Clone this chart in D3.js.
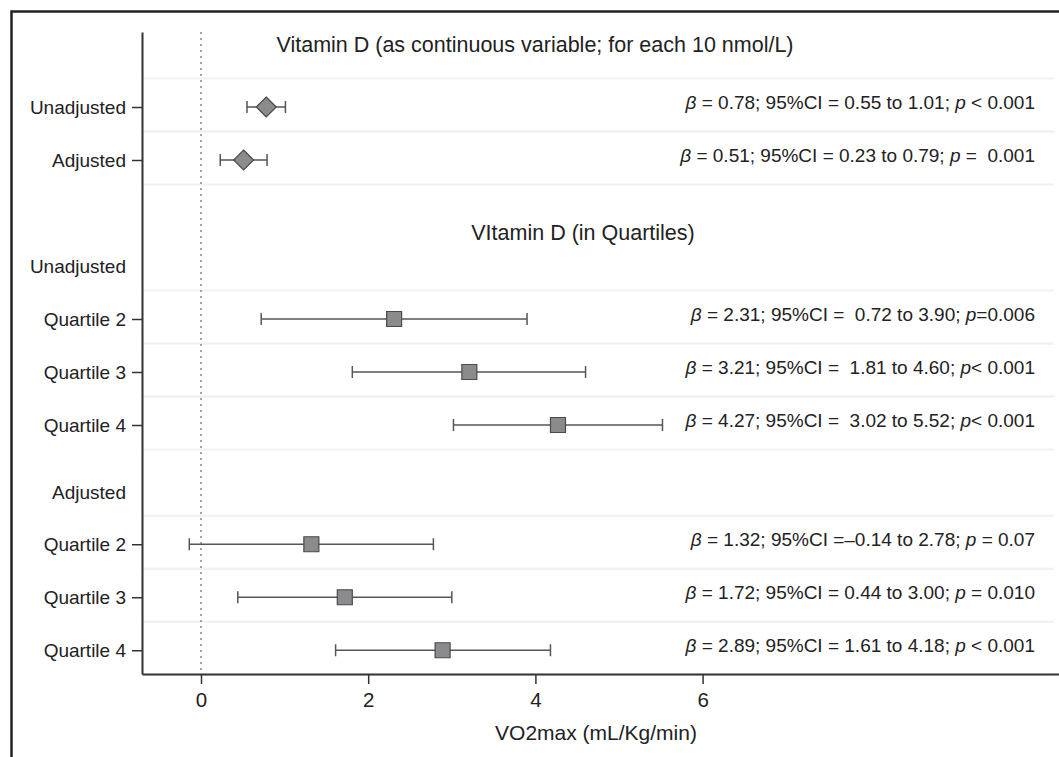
<!DOCTYPE html>
<html>
<head>
<meta charset="utf-8">
<script src="https://cdn.jsdelivr.net/npm/d3@7"></script>
<style>
  body { margin: 0; background: #fff; }
  text { font-family: "Liberation Sans", Arial, Helvetica, sans-serif; fill: #222; }
</style>
</head>
<body>
<div id="chart"></div>
<script>
var svgWidth = 1059;
var svgHeight = 757;

// Row labels on the y axis, and their position (row units, top to bottom)
var rowLabels = ["Unadjusted", "Adjusted", "Unadjusted", "Quartile 2", "Quartile 3", "Quartile 4",
                 "Adjusted", "Quartile 2", "Quartile 3", "Quartile 4"];
var rowPos = [1, 2, 4, 5, 6, 7, 8.27, 9.25, 10.25, 11.25];
var rowHasTick = [true, true, false, true, true, true, false, true, true, true];

// Estimates (beta, 95% CI) for each data row
var estRow = [0, 1, 3, 4, 5, 7, 8, 9];
var beta = [0.78, 0.51, 2.31, 3.21, 4.27, 1.32, 1.72, 2.89];
var ciLow = [0.55, 0.23, 0.72, 1.81, 3.02, -0.14, 0.44, 1.61];
var ciHigh = [1.01, 0.79, 3.90, 4.60, 5.52, 2.78, 3.00, 4.18];
var markerType = ["diamond", "diamond", "square", "square", "square", "square", "square", "square"];
var pText = ["p < 0.001", "p =  0.001", "p=0.006", "p< 0.001", "p< 0.001", "p = 0.07", "p = 0.010", "p < 0.001"];
var ciSep = [" = ", " = ", " =  ", " =  ", " =  ", " =", " = ", " = "];

var xTicks = [0, 2, 4, 6];
var titles = ["Vitamin D (as continuous variable; for each 10 nmol/L)", "VItamin D (in Quartiles)"];
var xTitle = "VO2max (mL/Kg/min)";

var svg = d3.select("#chart")
  .append("svg")
  .attr("width", svgWidth)
  .attr("height", svgHeight);

// outer frame
svg.append("rect")
  .attr("x", 11.5).attr("y", 11.5)
  .attr("width", svgWidth + 20).attr("height", svgHeight + 20)
  .attr("fill", "none").attr("stroke", "#222").attr("stroke-width", 2.5);

var plotLeft = 142, plotRight = 1059, plotTop = 32, plotBottom = 674;

var xScale = d3.scaleLinear()
  .domain([(plotLeft - 201) / 83.6, (plotRight - 201) / 83.6])
  .range([plotLeft, plotRight]);

var yScale = d3.scaleLinear()
  .domain([1 + (plotTop - 107) / 53, 1 + (plotBottom - 107) / 53])
  .range([plotTop, plotBottom]);

// light row separators around each estimate row
var sepGroup = svg.append("g");
estRow.forEach(function(r) {
  [-0.5, 0.5].forEach(function(off) {
    sepGroup.append("line")
      .attr("x1", plotLeft + 1).attr("x2", 1054)
      .attr("y1", yScale(rowPos[r] + off) - 2).attr("y2", yScale(rowPos[r] + off) - 2)
      .attr("stroke", "#f1f1f1").attr("stroke-width", 2);
  });
});

// reference line at zero
svg.append("line")
  .attr("x1", xScale(0)).attr("x2", xScale(0))
  .attr("y1", plotTop).attr("y2", plotBottom)
  .attr("stroke", "#888").attr("stroke-width", 1.5)
  .attr("stroke-dasharray", "2,4");

// axes
var bottomAxis = d3.axisBottom(xScale).tickValues(xTicks).tickSize(10).tickPadding(8).tickSizeOuter(0);
var xAxis = svg.append("g")
  .attr("transform", `translate(0, ${plotBottom})`)
  .call(bottomAxis);
xAxis.select(".domain").attr("stroke", "#333").attr("stroke-width", 2);
xAxis.selectAll(".tick line").attr("stroke", "#333").attr("stroke-width", 1.5);
xAxis.selectAll(".tick text").attr("font-size", 20.5).attr("fill", "#222");

var leftAxis = d3.axisLeft(yScale)
  .tickValues(rowPos)
  .tickFormat((d, i) => rowLabels[i])
  .tickSize(10).tickPadding(6).tickSizeOuter(0);
var yAxis = svg.append("g")
  .attr("transform", `translate(${plotLeft}, 0)`)
  .call(leftAxis);
yAxis.select(".domain").attr("stroke", "#333").attr("stroke-width", 2);
yAxis.selectAll(".tick line")
  .attr("stroke", "#333").attr("stroke-width", 1.5)
  .attr("opacity", (d, i) => rowHasTick[i] ? 1 : 0);
yAxis.selectAll(".tick text").attr("font-size", 19).attr("fill", "#222");

// CI whiskers
var ciGroup = svg.append("g");
beta.forEach(function(b, i) {
  var y = yScale(rowPos[estRow[i]]);
  ciGroup.append("line")
    .attr("x1", xScale(ciLow[i])).attr("x2", xScale(ciHigh[i]))
    .attr("y1", y).attr("y2", y)
    .attr("stroke", "#555").attr("stroke-width", 1.5);
  [ciLow[i], ciHigh[i]].forEach(function(v) {
    ciGroup.append("line")
      .attr("x1", xScale(v)).attr("x2", xScale(v))
      .attr("y1", y - 6).attr("y2", y + 6)
      .attr("stroke", "#555").attr("stroke-width", 1.5);
  });
});

// markers
svg.append("g").selectAll("path")
  .data(beta)
  .enter()
  .append("path")
  .attr("transform", (d, i) => `translate(${xScale(d)}, ${yScale(rowPos[estRow[i]])})`)
  .attr("d", (d, i) => markerType[i] === "diamond"
    ? "M0,-10L10,0L0,10L-10,0Z"
    : "M-7.5,-7.5H7.5V7.5H-7.5Z")
  .attr("fill", "#8b8b8e")
  .attr("stroke", "#4a4a4a")
  .attr("stroke-width", 1.2);

// annotations
var annGroup = svg.append("g");
beta.forEach(function(b, i) {
  var t = annGroup.append("text")
    .attr("x", 1035)
    .attr("y", yScale(rowPos[estRow[i]]) - 5)
    .attr("dy", "0.35em")
    .attr("text-anchor", "end")
    .attr("font-size", 19)
    .style("white-space", "pre");
  t.append("tspan").attr("font-style", "italic").text("\u03b2");
  var lo = ciLow[i] < 0 ? "\u2013" + Math.abs(ciLow[i]).toFixed(2) : ciLow[i].toFixed(2);
  t.append("tspan").text(" = " + b.toFixed(2) + "; 95%CI" + ciSep[i] + lo + " to " + ciHigh[i].toFixed(2) + "; ");
  t.append("tspan").attr("font-style", "italic").text(pText[i].slice(0, 1));
  t.append("tspan").text(pText[i].slice(1));
});

// section titles
svg.append("text")
  .attr("x", 535).attr("y", 44).attr("dy", "0.35em")
  .attr("text-anchor", "middle").attr("font-size", 21.5)
  .text(titles[0]);
svg.append("text")
  .attr("x", 583).attr("y", 232).attr("dy", "0.35em")
  .attr("text-anchor", "middle").attr("font-size", 21.5)
  .text(titles[1]);

// x axis title
svg.append("text")
  .attr("x", 596).attr("y", 733).attr("dy", "0.35em")
  .attr("text-anchor", "middle").attr("font-size", 21)
  .text(xTitle);
</script>
</body>
</html>
